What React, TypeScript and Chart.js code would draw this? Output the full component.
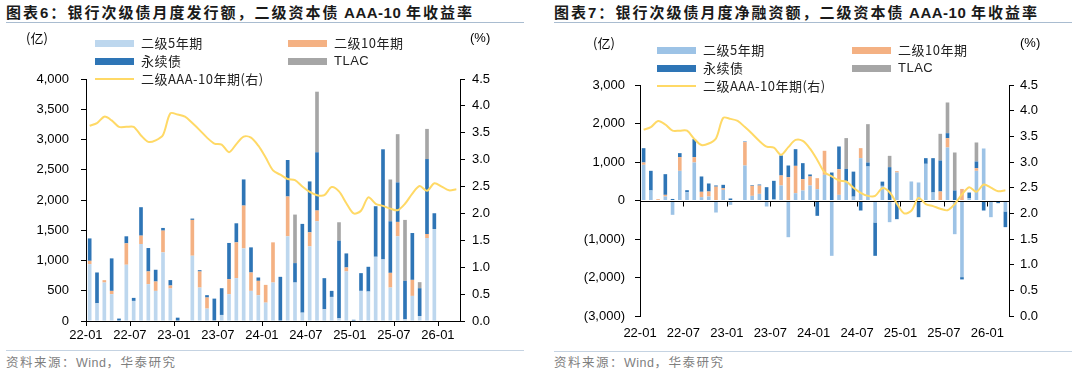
import React, { useEffect, useRef } from "react";
import { Chart, registerables } from "chart.js";
Chart.register(...registerables);

const months = [
  "22-01","22-02","22-03","22-04","22-05","22-06","22-07","22-08","22-09","22-10","22-11","22-12",
  "23-01","23-02","23-03","23-04","23-05","23-06","23-07","23-08","23-09","23-10","23-11","23-12",
  "24-01","24-02","24-03","24-04","24-05","24-06","24-07","24-08","24-09","24-10","24-11","24-12",
  "25-01","25-02","25-03","25-04","25-05","25-06","25-07","25-08","25-09","25-10","25-11","25-12",
  "26-01","26-02","26-03",
];
const tickLabels = ["22-01","22-07","23-01","23-07","24-01","24-07","25-01","25-07","26-01"];

// Left chart: monthly issuance (亿)
const issue5y = [940,293,636,443,0,930,332,1273,609,498,1134,537,0,0,1079,553,205,10,100,443,708,1200,498,426,304,636,0,1400,636,138,1234,1649,194,398,44,819,0,498,487,1062,1018,553,1400,28,415,83,1372,1521,0,0,0];
const issue10y = [55,0,39,55,0,354,0,138,210,155,360,50,0,0,592,265,183,0,0,249,592,708,304,238,293,664,0,658,0,0,232,177,0,0,0,66,0,0,0,0,0,243,238,0,265,0,66,0,0,0,0];
const issuePerp = [370,509,0,537,40,116,50,470,387,194,44,89,55,0,22,22,39,360,442,598,315,432,415,55,0,0,730,603,321,1467,841,963,514,100,1284,232,20,293,409,835,1820,852,653,636,774,459,1239,260,0,0,0];
const issueTlac = [0,0,0,0,0,0,0,0,0,0,0,0,0,0,0,0,0,0,0,0,0,0,0,0,0,0,0,0,802,0,0,1001,0,0,304,0,0,0,0,0,0,691,797,1007,0,100,498,0,0,0,0];

// Right chart: monthly net financing (亿)
const net5y = [927,260,0,104,-372,771,216,987,87,104,-312,277,-113,0,909,121,173,-156,35,390,-953,190,260,390,294,667,-1437,147,500,100,1100,883,-571,380,-563,727,0,494,468,953,208,0,1377,-875,-1990,60,771,1351,-433,0,-285];
const net10y = [60,0,35,43,0,355,0,139,139,130,360,43,0,0,606,260,216,0,0,260,606,710,294,234,286,624,0,667,0,0,260,0,0,0,0,35,0,0,0,0,0,234,242,0,300,0,69,0,0,0,0];
const netPerp = [372,511,0,537,40,104,52,468,398,208,30,87,52,0,17,17,26,346,476,520,303,433,416,52,-398,0,727,589,321,650,-260,104,-866,110,866,-485,-20,0,-433,147,892,805,130,260,-60,147,173,-260,0,-69,-407];
const netTlac = [0,0,0,0,0,0,0,0,0,0,0,0,0,0,0,0,0,0,0,0,0,0,0,0,0,0,0,0,800,0,0,996,0,0,294,0,0,0,0,0,0,693,797,987,0,0,494,0,0,0,0];

// 二级资本债 AAA-10年 yield (%)
const yieldAAA10 = [3.63,3.68,3.80,3.73,3.61,3.61,3.61,3.45,3.33,3.36,3.46,3.86,3.84,3.80,3.68,3.55,3.41,3.30,3.28,3.14,3.29,3.43,3.41,3.26,3.04,2.80,2.72,2.64,2.62,2.50,2.40,2.34,2.34,2.49,2.41,2.19,2.00,2.05,2.30,2.18,2.14,2.09,2.06,2.18,2.37,2.51,2.42,2.56,2.50,2.43,2.45];

const seriesNames = ["二级5年期", "二级10年期", "永续债", "TLAC", "二级AAA-10年期(右)"];

const FONT = "'Liberation Sans', Arial, sans-serif";
const CJK = "'Noto Sans CJK SC', 'Noto Sans', sans-serif";
const C_LIGHT_L = "#BDD7EE";
const C_LIGHT_R = "#9DC3E6";
const C_ORANGE = "#F4B183";
const C_BLUE = "#2E75B6";
const C_GRAY = "#A6A6A6";
const C_LINE = "#FFD966";

const tickSet = new Set(tickLabels);
const fmtThousands = (v: number) => Math.round(v).toString().replace(/\B(?=(\d{3})+(?!\d))/g, ",");

function buildDatasets(a: number[], b: number[], c: number[], d: number[], light: string) {
  return [
    { type: "bar" as const, label: seriesNames[0], data: a, backgroundColor: light, stack: "s", yAxisID: "y", order: 1 },
    { type: "bar" as const, label: seriesNames[1], data: b, backgroundColor: C_ORANGE, stack: "s", yAxisID: "y", order: 1 },
    { type: "bar" as const, label: seriesNames[2], data: c, backgroundColor: C_BLUE, stack: "s", yAxisID: "y", order: 1 },
    { type: "bar" as const, label: seriesNames[3], data: d, backgroundColor: C_GRAY, stack: "s", yAxisID: "y", order: 1 },
    {
      type: "line" as const, label: seriesNames[4], data: yieldAAA10, borderColor: C_LINE, borderWidth: 2,
      pointRadius: 0, tension: 0.3, yAxisID: "y2", order: 0, fill: false,
    },
  ];
}

const tickFont = { family: FONT, size: 13 };

const zeroLinePlugin = {
  id: "zeroLine",
  beforeDatasetDraw(chart: any, args: any) {
    if (args.meta.type !== "line") return;
    const { ctx, chartArea, scales } = chart;
    const y0 = Math.round(scales.y.getPixelForValue(0)) + 0.5;
    const xs = scales.x;
    const half = (xs.getPixelForValue(1) - xs.getPixelForValue(0)) / 2;
    ctx.save();
    ctx.strokeStyle = "#000";
    ctx.lineWidth = 1;
    ctx.beginPath();
    ctx.moveTo(chartArea.left, y0);
    ctx.lineTo(chartArea.right, y0);
    months.forEach((m, i) => {
      if (i > 0 && tickSet.has(m)) {
        const x = Math.round(xs.getPixelForValue(i) - half) + 0.5;
        ctx.moveTo(x, y0);
        ctx.lineTo(x, y0 + 5);
      }
    });
    ctx.stroke();
    ctx.restore();
  },
};

function useChart(ref: React.RefObject<HTMLCanvasElement>, makeConfig: () => any) {
  useEffect(() => {
    if (!ref.current) return;
    const chart = new Chart(ref.current, makeConfig());
    return () => chart.destroy();
  }, []);
}

function LeftChart() {
  const ref = useRef<HTMLCanvasElement>(null);
  useChart(ref, () => ({
    data: { labels: months, datasets: buildDatasets(issue5y, issue10y, issuePerp, issueTlac, C_LIGHT_L) },
    options: {
      responsive: false,
      animation: false,
      layout: { padding: { top: 53, left: 0, right: 0, bottom: 0 } },
      plugins: { legend: { display: false }, tooltip: { enabled: false } },
      datasets: { bar: { barPercentage: 0.5, categoryPercentage: 1.0, borderWidth: 0 } },
      scales: {
        x: {
          type: "category",
          stacked: true,
          offset: true,
          grid: {
            display: true, offset: true, drawOnChartArea: false, drawTicks: true, tickLength: 5,
            color: (c: any) => (c.index !== undefined && c.index % 6 === 0 ? "#000" : "rgba(0,0,0,0)"),
          },
          border: { display: true, color: "#000", width: 1 },
          ticks: {
            autoSkip: false, maxRotation: 0, minRotation: 0, labelOffset: -3.7, padding: 2,
            font: tickFont, color: "#000",
            callback: (_v: any, i: number) => (tickSet.has(months[i]) ? months[i] : ""),
          },
          afterFit: (s: any) => { s.height = 25; },
        },
        y: {
          position: "left", stacked: true, min: 0, max: 4000,
          ticks: { stepSize: 500, font: tickFont, color: "#000", padding: 12, callback: (v: number) => fmtThousands(v) },
          grid: { drawOnChartArea: false, drawTicks: true, tickLength: 5, color: "#000" },
          border: { display: true, color: "#000" },
          afterFit: (s: any) => { s.width = 86; },
        },
        y2: {
          position: "right", min: 0, max: 4.5,
          ticks: { stepSize: 0.5, font: tickFont, color: "#000", padding: 7, callback: (v: number) => v.toFixed(1) },
          grid: { drawOnChartArea: false, drawTicks: true, tickLength: 5, color: "#000" },
          border: { display: true, color: "#000" },
          afterFit: (s: any) => { s.width = 80; },
        },
      },
    },
  }));
  return <canvas ref={ref} width={540} height={320} style={{ position: "absolute", left: 0, top: 26, width: 540, height: 320 }} />;
}

function RightChart() {
  const ref = useRef<HTMLCanvasElement>(null);
  useChart(ref, () => ({
    data: { labels: months, datasets: buildDatasets(net5y, net10y, netPerp, netTlac, C_LIGHT_R) },
    plugins: [zeroLinePlugin],
    options: {
      responsive: false,
      animation: false,
      layout: { padding: { top: 59, left: 0, right: 0, bottom: 0 } },
      plugins: { legend: { display: false }, tooltip: { enabled: false } },
      datasets: { bar: { barPercentage: 0.5, categoryPercentage: 1.0, borderWidth: 0 } },
      scales: {
        x: {
          type: "category",
          stacked: true,
          offset: true,
          grid: { display: false },
          border: { display: false },
          ticks: {
            autoSkip: false, maxRotation: 0, minRotation: 0, labelOffset: -3.6, padding: 2,
            font: tickFont, color: "#000",
            callback: (_v: any, i: number) => (tickSet.has(months[i]) ? months[i] : ""),
          },
          afterFit: (s: any) => { s.height = 30; },
        },
        y: {
          position: "left", stacked: true, min: -3000, max: 3000,
          ticks: {
            stepSize: 1000, font: tickFont, color: "#000", padding: 10,
            callback: (v: number) => (v < 0 ? `(${fmtThousands(-v)})` : fmtThousands(v)),
          },
          grid: { drawOnChartArea: false, drawTicks: true, tickLength: 5, color: "#000" },
          border: { display: true, color: "#000" },
          afterFit: (s: any) => { s.width = 95; },
        },
        y2: {
          position: "right", min: 0, max: 4.5,
          ticks: { stepSize: 0.5, font: tickFont, color: "#000", padding: 6, callback: (v: number) => v.toFixed(1) },
          grid: { drawOnChartArea: false, drawTicks: true, tickLength: 5, color: "#000" },
          border: { display: true, color: "#000" },
          afterFit: (s: any) => { s.width = 71; },
        },
      },
    },
  }));
  return <canvas ref={ref} width={535} height={320} style={{ position: "absolute", left: 545, top: 26, width: 535, height: 320 }} />;
}

function LegendItem({ x, y, color, kind, label }: { x: number; y: number; color: string; kind: "bar" | "line"; label: string }) {
  const h = kind === "bar" ? 7 : 2;
  return (
    <>
      <div style={{ position: "absolute", left: x, top: y - h / 2, width: 39, height: h, background: color }} />
      <div
        style={{
          position: "absolute", left: x + 46, top: y - 9, height: 18, lineHeight: "18px", fontSize: 13,
          fontFamily: label === "TLAC" ? FONT : CJK, color: "#222", whiteSpace: "nowrap", letterSpacing: 0.5,
        }}
      >
        {label}
      </div>
    </>
  );
}

function Legend({ x1, x2, y, light }: { x1: number; x2: number; y: number; light: string }) {
  return (
    <>
      <LegendItem x={x1} y={y} color={light} kind="bar" label={seriesNames[0]} />
      <LegendItem x={x2} y={y} color={C_ORANGE} kind="bar" label={seriesNames[1]} />
      <LegendItem x={x1} y={y + 18} color={C_BLUE} kind="bar" label={seriesNames[2]} />
      <LegendItem x={x2} y={y + 18} color={C_GRAY} kind="bar" label={seriesNames[3]} />
      <LegendItem x={x1} y={y + 36} color={C_LINE} kind="line" label={seriesNames[4]} />
    </>
  );
}

function Title({ x, num, text }: { x: number; num: string; text: string }) {
  return (
    <div
      style={{
        position: "absolute", left: x, top: 3, height: 18, lineHeight: "18px", fontSize: 15, fontWeight: 700,
        fontFamily: CJK, color: "#1a1a1a", whiteSpace: "nowrap", letterSpacing: 2,
      }}
    >
      图表<span style={{ fontFamily: FONT }}>{num}</span>：{text}
      <span style={{ fontFamily: FONT, letterSpacing: 0.5 }}> AAA-10 </span>年收益率
    </div>
  );
}

function Unit({ x, y, text }: { x: number; y: number; text: string }) {
  return (
    <div style={{ position: "absolute", left: x, top: y - 9, height: 18, lineHeight: "18px", fontSize: 13, fontFamily: text === "(%)" ? FONT : CJK, color: "#000", whiteSpace: "nowrap" }}>
      {text}
    </div>
  );
}

function Source({ x }: { x: number }) {
  return (
    <div style={{ position: "absolute", left: x, top: 354, height: 16, lineHeight: "16px", fontSize: 12.5, fontFamily: CJK, color: "#7f7f7f", whiteSpace: "nowrap", letterSpacing: 1.5 }}>
      资料来源：<span style={{ fontFamily: FONT, letterSpacing: 0.5 }}>Wind</span>，华泰研究
    </div>
  );
}

export default function App() {
  return (
    <div style={{ position: "fixed", left: 0, top: 0, width: 1080, height: 371, background: "#fff", overflow: "hidden" }}>
      <Title x={6} num="6" text="银行次级债月度发行额，二级资本债" />
      <div style={{ position: "absolute", left: 6, top: 22, width: 518, height: 1, background: "#a9bcd0" }} />
      <LeftChart />
      <Unit x={26} y={38} text="(亿)" />
      <Unit x={470} y={38} text="(%)" />
      <Legend x1={95} x2={288} y={43} light={C_LIGHT_L} />
      <div style={{ position: "absolute", left: 6, top: 350, width: 518, height: 1, background: "#c5d3e2" }} />
      <Source x={6} />

      <Title x={554} num="7" text="银行次级债月度净融资额，二级资本债" />
      <div style={{ position: "absolute", left: 554, top: 22, width: 518, height: 1, background: "#a9bcd0" }} />
      <RightChart />
      <Unit x={593} y={43} text="(亿)" />
      <Unit x={1020} y={43} text="(%)" />
      <Legend x1={657} x2={852} y={50} light={C_LIGHT_R} />
      <div style={{ position: "absolute", left: 554, top: 351, width: 518, height: 1, background: "#c5d3e2" }} />
      <Source x={554} />
    </div>
  );
}
